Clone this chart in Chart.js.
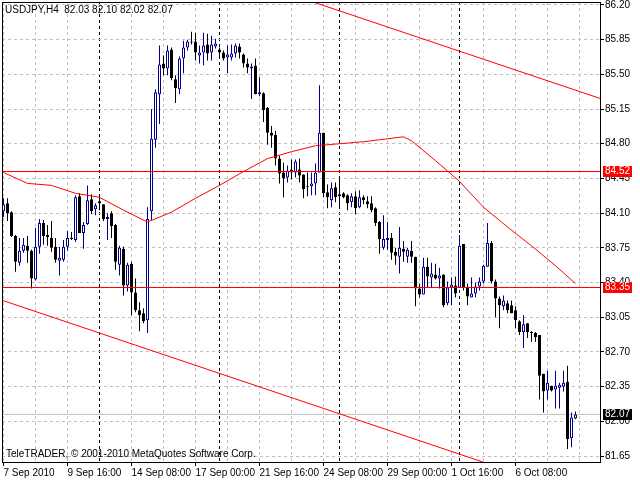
<!DOCTYPE html>
<html>
<head>
<meta charset="utf-8">
<script src="https://cdn.jsdelivr.net/npm/chart.js@4.4.1/dist/chart.umd.min.js"></script>
<style>
html, body { margin: 0; padding: 0; background: #fff; }
</style>
</head>
<body>
<canvas id="grafica" width="640" height="480"></canvas>
<script>
// USDJPY H4, one value per bar (bar 0 = 7 Sep 2010 00:00)
const opens = [
    84.12, 84.20, 84.11, 83.87, 83.60, 83.72, 83.77, 83.72, 83.43, 83.76,
    84.00, 83.88, 83.85, 83.76, 83.62, 83.63, 83.76, 83.85, 83.83, 84.27,
    83.90, 83.99, 84.24, 84.14, 84.22, 84.19, 84.04, 84.10, 83.98, 83.58,
    83.74, 83.37, 83.59, 83.30, 83.12, 83.09, 83.02, 84.12, 84.84, 85.30,
    85.61, 85.56, 85.75, 85.45, 85.35, 85.66, 85.77, 85.83, 85.83, 85.69,
    85.72, 85.80, 85.72, 85.78, 85.75, 85.72, 85.67, 85.67, 85.71, 85.78,
    85.70, 85.61, 85.56, 85.59, 85.30, 85.31, 85.16, 84.91, 84.89, 84.65,
    84.51, 84.46, 84.54, 84.51, 84.54, 84.49, 84.37, 84.37, 84.40, 84.51,
    84.91, 84.31, 84.23, 84.36, 84.29, 84.30, 84.28, 84.21, 84.27, 84.16,
    84.26, 84.22, 84.20, 84.15, 84.01, 83.75, 83.83, 83.85, 83.71, 83.66,
    83.74, 83.66, 83.72, 83.66, 83.34, 83.28, 83.56, 83.45, 83.48, 83.44,
    83.48, 83.19, 83.35, 83.37, 83.35, 83.79, 83.35, 83.25, 83.29, 83.36,
    83.41, 83.56, 83.80, 83.41, 83.24, 83.16, 83.19, 83.17, 83.12, 83.01,
    82.90, 82.99, 82.90, 82.89, 82.87, 82.48, 82.31, 82.36, 82.32, 82.34,
    82.35, 82.40, 81.83, 82.03
]
const highs = [
    84.25, 84.25, 84.12, 83.88, 83.85, 83.85, 83.87, 83.73, 83.95, 84.04,
    84.03, 83.98, 84.02, 83.85, 83.76, 83.83, 83.92, 83.91, 84.28, 84.30,
    84.01, 84.38, 84.29, 84.20, 84.29, 84.19, 84.10, 84.12, 83.99, 83.77,
    83.76, 83.60, 83.61, 83.44, 83.20, 83.14, 84.16, 85.15, 85.35, 85.79,
    85.69, 85.79, 85.77, 85.49, 85.68, 85.84, 85.85, 85.93, 85.92, 85.79,
    85.92, 85.91, 85.89, 85.86, 85.77, 85.74, 85.79, 85.80, 85.81, 85.81,
    85.71, 85.66, 85.61, 85.66, 85.47, 85.32, 85.17, 84.98, 84.93, 84.68,
    84.61, 84.58, 84.64, 84.64, 84.65, 84.49, 84.51, 84.51, 84.60, 85.39,
    84.91, 84.39, 84.41, 84.41, 84.45, 84.31, 84.29, 84.30, 84.32, 84.33,
    84.28, 84.27, 84.27, 84.16, 84.02, 84.08, 84.01, 83.90, 83.75, 83.96,
    83.82, 83.75, 83.82, 83.66, 83.39, 83.65, 83.65, 83.60, 83.59, 83.55,
    83.48, 83.41, 83.45, 83.46, 83.88, 83.79, 83.39, 83.45, 83.40, 83.45,
    83.58, 84.00, 83.82, 83.43, 83.26, 83.27, 83.22, 83.22, 83.16, 83.02,
    83.07, 82.99, 82.91, 82.90, 82.87, 82.48, 82.51, 82.36, 82.51, 82.39,
    82.51, 82.56, 82.09, 82.10
]
const lows = [
    84.06, 84.02, 83.86, 83.51, 83.57, 83.70, 83.60, 83.34, 83.42, 83.69,
    83.78, 83.77, 83.71, 83.60, 83.47, 83.61, 83.72, 83.83, 83.81, 83.90,
    83.74, 83.98, 84.09, 84.08, 84.13, 84.02, 83.83, 83.85, 83.53, 83.47,
    83.27, 83.31, 83.07, 83.10, 82.91, 82.99, 82.89, 84.03, 84.76, 85.00,
    85.49, 85.49, 85.44, 85.21, 85.30, 85.51, 85.74, 85.80, 85.64, 85.61,
    85.59, 85.64, 85.64, 85.76, 85.67, 85.64, 85.51, 85.64, 85.67, 85.66,
    85.57, 85.51, 85.25, 85.30, 85.28, 85.02, 84.79, 84.76, 84.58, 84.40,
    84.26, 84.41, 84.44, 84.46, 84.41, 84.25, 84.27, 84.28, 84.28, 84.51,
    84.26, 84.15, 84.16, 84.21, 84.15, 84.25, 84.13, 84.16, 84.09, 84.15,
    84.19, 84.15, 84.11, 83.97, 83.69, 83.73, 83.73, 83.63, 83.58, 83.49,
    83.61, 83.60, 83.60, 83.16, 83.25, 83.28, 83.35, 83.35, 83.43, 83.34,
    83.15, 83.17, 83.17, 83.25, 83.35, 83.32, 83.17, 83.25, 83.25, 83.32,
    83.39, 83.56, 83.39, 83.05, 82.94, 83.12, 83.09, 83.09, 82.94, 82.87,
    82.74, 82.84, 82.80, 82.80, 82.22, 82.09, 82.22, 82.30, 82.13, 82.13,
    82.30, 81.72, 81.74, 82.02
]
const closes = [
    84.19, 84.10, 83.87, 83.61, 83.72, 83.78, 83.72, 83.44, 83.76, 84.00,
    83.87, 83.86, 83.75, 83.63, 83.65, 83.76, 83.85, 83.84, 84.26, 83.90,
    83.98, 84.23, 84.12, 84.18, 84.20, 84.04, 84.06, 83.97, 83.61, 83.75,
    83.37, 83.58, 83.30, 83.12, 83.07, 83.01, 84.04, 84.85, 85.32, 85.60,
    85.56, 85.74, 85.46, 85.36, 85.66, 85.77, 85.83, 85.82, 85.72, 85.72,
    85.79, 85.71, 85.80, 85.81, 85.72, 85.66, 85.70, 85.71, 85.79, 85.72,
    85.61, 85.57, 85.58, 85.30, 85.32, 85.14, 84.91, 84.88, 84.65, 84.50,
    84.45, 84.53, 84.51, 84.62, 84.48, 84.34, 84.36, 84.40, 84.51, 84.91,
    84.30, 84.26, 84.35, 84.26, 84.27, 84.26, 84.20, 84.27, 84.15, 84.26,
    84.23, 84.19, 84.13, 84.00, 83.84, 83.84, 83.85, 83.70, 83.67, 83.75,
    83.71, 83.73, 83.66, 83.34, 83.28, 83.56, 83.46, 83.49, 83.44, 83.47,
    83.17, 83.35, 83.38, 83.29, 83.77, 83.35, 83.26, 83.29, 83.36, 83.41,
    83.57, 83.80, 83.41, 83.24, 83.17, 83.22, 83.12, 83.09, 83.02, 82.90,
    82.98, 82.90, 82.89, 82.85, 82.46, 82.30, 82.39, 82.31, 82.36, 82.37,
    82.39, 81.82, 82.04, 82.07
]

// moving average read every few bars
const maBars = [0, 6, 12, 18, 24, 30, 36, 42, 48, 54, 60, 66, 72, 78, 84, 90, 96, 100, 102, 108, 114, 120, 126, 132, 138, 143]
const maValues = [84.51, 84.40, 84.38, 84.30, 84.26, 84.13, 84.01, 84.11, 84.25, 84.38, 84.52, 84.65, 84.72, 84.78,
    84.80, 84.82, 84.85, 84.87, 84.83, 84.63, 84.42, 84.16, 83.96, 83.77, 83.57, 83.39]

// channel lines [bar, price]
const upperLine = [[70, 86.33], [160, 85.11]]
const lowerLine = [[-1, 83.23], [125, 81.52]]

const redLevels = [84.52, 83.35]
const bidPrice = 82.07

const priceTicks = [81.65, 82.00, 82.35, 82.70, 83.05, 83.40, 83.75, 84.10, 84.45, 84.80, 85.15, 85.50, 85.85, 86.20]
const timeLabels = ['7 Sep 2010', '9 Sep 16:00', '14 Sep 08:00', '17 Sep 00:00', '21 Sep 16:00', '24 Sep 08:00', '29 Sep 00:00', '1 Oct 16:00', '6 Oct 08:00']
const labelBars = [0, 16, 32, 48, 64, 80, 96, 112, 128]
const weekBars = [24, 54, 84, 114]

const header = 'USDJPY,H4  82.03 82.10 82.02 82.07'
const copyright = 'TeleTRADER, \u00a9 2001-2010 MetaQuotes Software Corp.'

const bullColor = '#00008b'
const fontFam = "'Liberation Sans', Arial, sans-serif"

let isUp = (i) => closes[i] >= opens[i]

let bodyData = opens.map((o, i) => ({x: i, y: [o, closes[i]]}))
let wickData = highs.map((h, i) => ({x: i, y: [lows[i], h]}))

let levelLine = (p) => [{x: -2, y: p}, {x: 152, y: p}]
let toPoints = (arr) => arr.map(p => ({x: p[0], y: p[1]}))

let gridBars = []
for (let b = 0; b <= 148; b += 8) gridBars.push(b)
weekBars.forEach(b => { if (!gridBars.includes(b)) gridBars.push(b) })
gridBars.sort((a, b) => a - b)

let tickVal = (c) => c.tick ? c.tick.value : null

const lineDefaults = {
    type: 'line',
    borderWidth: 1,
    pointRadius: 0,
    tension: 0,
    fill: false
}

/* extras: frame, header text, price boxes */
const extras = {
    id: 'extras',
    afterDraw(chart) {
        const ctx = chart.ctx
        const a = chart.chartArea
        const y = chart.scales.y
        ctx.save()
        ctx.strokeStyle = '#000'
        ctx.lineWidth = 1
        ctx.strokeRect(a.left + 0.5, a.top + 0.5, a.right - a.left, a.bottom - a.top)

        ctx.font = '10px ' + fontFam
        ctx.fillStyle = '#000'
        ctx.textBaseline = 'top'
        ctx.fillText(header, 5, 5)
        ctx.textBaseline = 'alphabetic'
        ctx.fillText(copyright, 6, 457)

        let box = (p, bg) => {
            let py = Math.floor(y.getPixelForValue(p))
            ctx.fillStyle = bg
            ctx.fillRect(603, py - 5, 29, 11)
            ctx.fillStyle = '#fff'
            ctx.textBaseline = 'middle'
            ctx.fillText(p.toFixed(2), 605, py + 0.5)
        }
        redLevels.forEach(p => box(p, '#ff0000'))
        box(bidPrice, '#000')
        ctx.restore()
    }
}

let ctx = document.getElementById('grafica').getContext('2d')

let grafica = new Chart(ctx, {
    type: 'bar',
    data: {
        datasets: [
            {
                label: 'wicks',
                data: wickData,
                order: 5,
                barThickness: 1,
                grouped: false,
                inflateAmount: 0,
                borderWidth: 0,
                backgroundColor: (c) => isUp(c.dataIndex) ? bullColor : '#000'
            },
            {
                label: 'bodies',
                data: bodyData,
                order: 4,
                barThickness: 3,
                grouped: false,
                inflateAmount: 0,
                borderWidth: 1,
                borderSkipped: false,
                backgroundColor: (c) => isUp(c.dataIndex) ? '#fff' : '#000',
                borderColor: (c) => isUp(c.dataIndex) ? bullColor : '#000'
            },
            {
                ...lineDefaults,
                label: 'bid',
                data: levelLine(bidPrice),
                borderColor: '#c0c0c0',
                order: 6
            },
            ...redLevels.map(p => ({
                ...lineDefaults,
                label: 'level ' + p,
                data: levelLine(p),
                borderColor: '#ff0000',
                order: 3
            })),
            {
                ...lineDefaults,
                label: 'MA',
                data: maBars.map((b, i) => ({x: b, y: maValues[i]})),
                borderColor: '#ff0000',
                order: 2
            },
            {
                ...lineDefaults,
                label: 'upper',
                data: toPoints(upperLine),
                borderColor: '#ff0000',
                order: 1
            },
            {
                ...lineDefaults,
                label: 'lower',
                data: toPoints(lowerLine),
                borderColor: '#ff0000',
                order: 1
            }
        ]
    },
    options: {
        responsive: false,
        animation: false,
        layout: {padding: {top: 2, left: 2, right: 0, bottom: 0}},
        plugins: {
            legend: {display: false},
            tooltip: {enabled: false},
            title: {display: false}
        },
        scales: {
            x: {
                type: 'linear',
                offset: false,
                min: -0.375,
                max: 149.125,
                afterBuildTicks: (s) => { s.ticks = gridBars.map(v => ({value: v})) },
                afterFit: (s) => { s.height = 18; s.paddingLeft = 0; s.paddingRight = 0 },
                ticks: {
                    autoSkip: false,
                    maxRotation: 0,
                    align: 'start',
                    padding: 1,
                    color: '#000',
                    font: {family: fontFam, size: 10},
                    callback: (v) => {
                        let k = labelBars.indexOf(v)
                        return k >= 0 ? timeLabels[k] : ''
                    }
                },
                grid: {
                    offset: false,
                    color: (c) => weekBars.includes(tickVal(c)) ? '#000' : '#c0c0c0',
                    tickColor: (c) => labelBars.includes(tickVal(c)) ? '#000' : 'rgba(0,0,0,0)',
                    tickLength: 4,
                    lineWidth: 1
                },
                border: {display: false, dash: [3, 3]}
            },
            y: {
                type: 'linear',
                position: 'right',
                min: 81.59,
                max: 86.2296,
                afterBuildTicks: (s) => { s.ticks = priceTicks.map(v => ({value: v})) },
                afterFit: (s) => { s.width = 40; s.paddingTop = 0; s.paddingBottom = 0 },
                ticks: {
                    padding: 1,
                    color: '#000',
                    font: {family: fontFam, size: 10},
                    callback: (v) => v.toFixed(2)
                },
                grid: {
                    color: '#c0c0c0',
                    tickColor: '#000',
                    tickLength: 4,
                    lineWidth: 1
                },
                border: {display: false, dash: [3, 3]}
            }
        }
    },
    plugins: [extras]
})
</script>
</body>
</html>
